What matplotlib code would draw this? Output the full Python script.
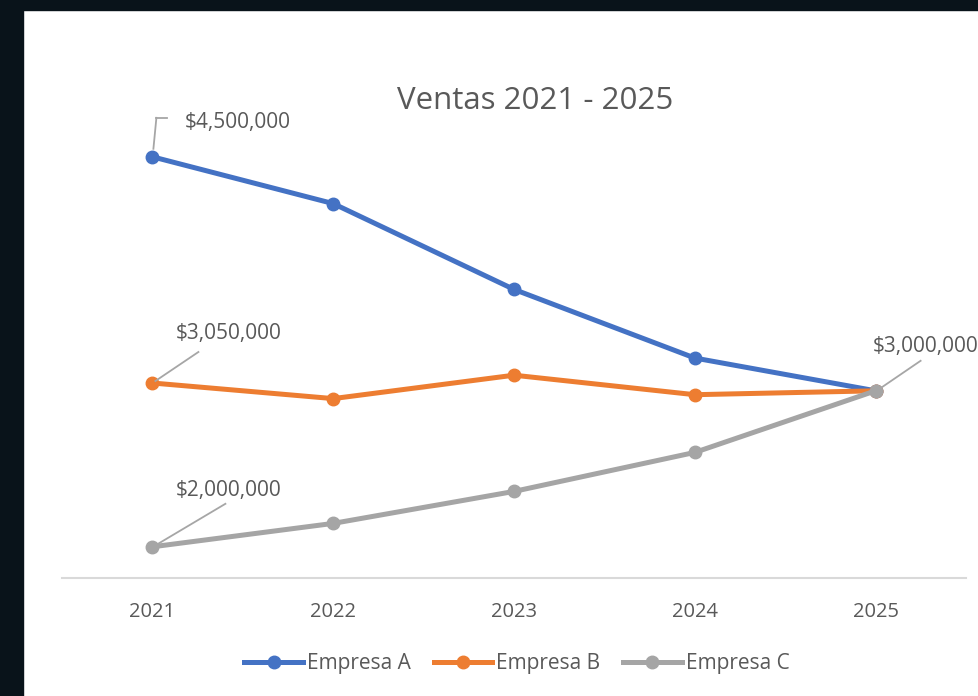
import matplotlib.pyplot as plt
from matplotlib.patches import Rectangle

plt.rcParams['font.family'] = ['Open Sans', 'DejaVu Sans']

years = ['2021', '2022', '2023', '2024', '2025']
empresa_a = [4500000, 4200000, 3650000, 3210000, 3000000]
empresa_b = [3050000, 2950000, 3100000, 2975000, 3000000]
empresa_c = [2000000, 2150000, 2355000, 2605000, 3000000]

text_col = '#595959'
lead_col = '#a6a6a6'

fig = plt.figure(figsize=(9.79, 6.96), dpi=100)
fig.patch.set_facecolor('white')
# dark window border on the left and top
fig.add_artist(Rectangle((0, 0), 23 / 979, 1, transform=fig.transFigure, color='#09131a', zorder=0))
fig.add_artist(Rectangle((0, 1 - 10 / 696), 1, 10 / 696, transform=fig.transFigure, color='#09131a', zorder=0))

ax = fig.add_axes([62 / 979, (696 - 578) / 696, (966 - 62) / 979, 468 / 696])
x = range(len(years))
ax.plot(x, empresa_a, color='#4472c4', lw=3.6, marker='o', ms=9, label='Empresa A', zorder=3)
ax.plot(x, empresa_b, color='#ed7d31', lw=3.6, marker='o', ms=9, label='Empresa B', zorder=3)
ax.plot(x, empresa_c, color='#a5a5a5', lw=3.6, marker='o', ms=9, label='Empresa C', zorder=4)

ax.set_xlim(-0.5, 4.5)
ax.set_ylim(1800000, 4800000)
ax.set_xticks(list(x))
ax.set_xticklabels(years)
ax.tick_params(axis='x', length=0, pad=17, labelsize=14.5, labelcolor=text_col)
ax.set_yticks([])
for s in ['top', 'left', 'right']:
    ax.spines[s].set_visible(False)
ax.spines['bottom'].set_color('#d9d9d9')
ax.spines['bottom'].set_linewidth(1.5)
ax.patch.set_alpha(0)


def seg(i, v, p0, p1):
    # leader line segment, offsets in pixels from the data point
    t = ax.transData.transform((i, v))
    inv = fig.transFigure.inverted()
    a = inv.transform((t[0] + p0[0], t[1] + p0[1]))
    b = inv.transform((t[0] + p1[0], t[1] + p1[1]))
    fig.add_artist(plt.Line2D([a[0], b[0]], [a[1], b[1]], color=lead_col, lw=1.3))


def data_label(i, v, text, tx, ty, path, ha='center'):
    ax.annotate(text, xy=(i, v), xytext=(tx, ty), textcoords='offset pixels',
                ha=ha, va='center', fontsize=15, color=text_col, annotation_clip=False)
    for k in range(len(path) - 1):
        seg(i, v, path[k], path[k + 1])


data_label(0, empresa_a[0], '$4,500,000', 85, 34, [(1, 8), (4, 39), (15, 39)])
data_label(0, empresa_b[0], '$3,050,000', 76, 50, [(3, 2), (46, 31)])
data_label(0, empresa_c[0], '$2,000,000', 76, 56, [(4, 2), (73, 43)])
data_label(4, empresa_c[4], '$3,000,000', -3, 44, [(4, 2), (45, 30)], ha='left')

fig.text(535 / 979, 1 - 101 / 696, 'Ventas 2021 - 2025', ha='center', va='center',
         fontsize=22.5, color=text_col)

fig.legend(loc='center', bbox_to_anchor=(517 / 979, 1 - 664 / 696), ncol=3, frameon=False,
           fontsize=15, handlelength=2.8, columnspacing=1.1, handletextpad=0.2,
           labelcolor=text_col)

fig.savefig('out.png', dpi=100)
